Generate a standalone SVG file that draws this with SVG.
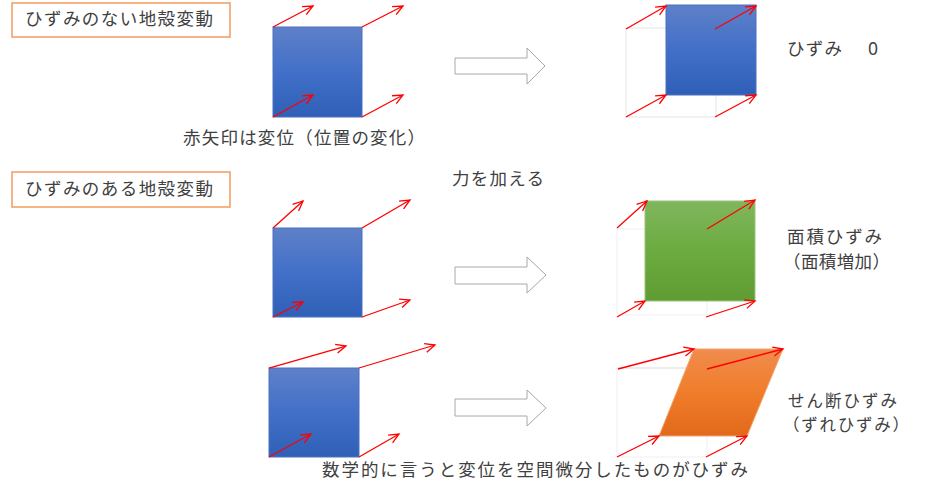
<svg xmlns="http://www.w3.org/2000/svg" width="929" height="487" viewBox="0 0 929 487">
<defs>
<linearGradient id="gBlue" x1="0" y1="0" x2="0" y2="1"><stop offset="0" stop-color="#5f80c8"/><stop offset="0.5" stop-color="#4270c8"/><stop offset="1" stop-color="#2f5fb6"/></linearGradient>
<linearGradient id="gGreen" x1="0" y1="0" x2="0" y2="1"><stop offset="0" stop-color="#80b65e"/><stop offset="0.5" stop-color="#6cab3f"/><stop offset="1" stop-color="#5f9c34"/></linearGradient>
<linearGradient id="gOrange" x1="0" y1="0" x2="0" y2="1"><stop offset="0" stop-color="#f08c4e"/><stop offset="0.5" stop-color="#f07d2a"/><stop offset="1" stop-color="#e2691b"/></linearGradient>
<marker id="ah" markerUnits="userSpaceOnUse" markerWidth="14" markerHeight="12" viewBox="-11 -6 13 12" refX="0" refY="0" orient="auto"><path d="M-10,-4.5 L0,0 L-10,4.5" fill="none" stroke="#ff0000" stroke-width="1.3"/></marker>
</defs>
<style>
.t{font-family:"Noto Sans CJK JP","Noto Sans",sans-serif;font-size:17.5px;fill:#404040}
.s{font-size:16.5px}
.lbl{fill:#fff;stroke:#f39a5c;stroke-width:1.5}
.blue{fill:url(#gBlue);stroke:#4a72c0;stroke-width:1}
.ghost{fill:none;stroke:#ebebeb;stroke-width:1.3}
.ghost2{fill:none;stroke:#f3f3f6;stroke-width:1.3}
.blk{fill:#fff;stroke:#a8a8a8;stroke-width:1}
.ra{fill:none;stroke:#ff0000;stroke-width:1.3;marker-end:url(#ah)}
</style>
<rect width="929" height="487" fill="#fff"/>
<g id="label1"><rect class="lbl" x="12" y="3" width="218" height="34"/><text class="t" x="25" y="25" textLength="188" lengthAdjust="spacing">ひずみのない地殻変動</text></g>
<g id="label2"><rect class="lbl" x="12" y="172" width="218" height="35"/><text class="t" x="25" y="194.5" textLength="188" lengthAdjust="spacing">ひずみのある地殻変動</text></g>
<g id="ghost1"><rect class="ghost" x="626" y="28" width="90" height="89"/></g>
<g id="ghost2"><rect class="ghost2" x="617" y="229" width="90" height="86"/></g>
<g id="ghost3"><rect class="ghost2" x="617" y="368" width="90" height="89"/><line x1="617" y1="368" x2="694" y2="368" stroke="#e8e8e8" stroke-width="1.5"/></g>
<g id="sq1"><rect class="blue" x="273" y="27" width="89" height="90"/></g>
<g id="sq1b"><rect class="blue" x="666" y="5" width="90" height="90"/></g>
<g id="sq2"><rect class="blue" x="273" y="228" width="89" height="89"/></g>
<g id="sq2b"><rect x="645" y="201" width="110" height="100" fill="url(#gGreen)" stroke="#9cc47f" stroke-width="1"/></g>
<g id="sq3"><rect class="blue" x="269" y="368" width="90" height="89"/></g>
<g id="sq3b"><polygon points="694,349 783,349 747,436 659,436" fill="url(#gOrange)" stroke="#f4a46c" stroke-width="1"/></g>
<g id="bigarrow1"><polygon class="blk" points="455,58 527,58 527,48 545,66 527,84 527,74 455,74"/></g>
<g id="bigarrow2"><polygon class="blk" points="455,267 527,267 527,257 546,275 527,293 527,284 455,284"/></g>
<g id="bigarrow3"><polygon class="blk" points="455,399 527,399 527,390 546,408 527,426 527,416 455,416"/></g>
<g id="connectors">
<line class="ra" x1="273" y1="27" x2="313" y2="6"/>
<line class="ra" x1="362" y1="27" x2="403" y2="6"/>
<line class="ra" x1="273" y1="117" x2="313" y2="95"/>
<line class="ra" x1="362" y1="117" x2="403" y2="95"/>
<line class="ra" x1="626" y1="29" x2="666" y2="6"/>
<line class="ra" x1="715" y1="29" x2="756" y2="6"/>
<line class="ra" x1="626" y1="117" x2="666" y2="95"/>
<line class="ra" x1="715" y1="117" x2="756" y2="95"/>
<line class="ra" x1="273" y1="228" x2="303" y2="201"/>
<line class="ra" x1="362" y1="228" x2="410" y2="200"/>
<line class="ra" x1="273" y1="317" x2="303" y2="302"/>
<line class="ra" x1="362" y1="317" x2="410" y2="300"/>
<line class="ra" x1="617" y1="228" x2="647" y2="201"/>
<line class="ra" x1="707" y1="229" x2="755" y2="200"/>
<line class="ra" x1="617" y1="317" x2="645" y2="301"/>
<line class="ra" x1="706" y1="317" x2="755" y2="301"/>
<line class="ra" x1="269" y1="368" x2="346" y2="346"/>
<line class="ra" x1="359" y1="368" x2="435" y2="345"/>
<line class="ra" x1="269" y1="457" x2="311" y2="434"/>
<line class="ra" x1="359" y1="457" x2="399" y2="434"/>
<line class="ra" x1="618" y1="369" x2="694" y2="349"/>
<line class="ra" x1="707" y1="369" x2="783" y2="349"/>
<line class="ra" x1="617" y1="457" x2="659" y2="436"/>
<line class="ra" x1="706" y1="457" x2="747" y2="436"/>
</g>
<g id="texts">
<text class="t" x="183" y="144" textLength="242" lengthAdjust="spacing">赤矢印は変位（位置の変化）</text>
<text class="t" x="787" y="55" textLength="55" lengthAdjust="spacing">ひずみ</text>
<text class="t" x="868" y="55" style="font-family:'Noto Sans',sans-serif">0</text>
<text class="t" x="452" y="185" textLength="92" lengthAdjust="spacing">力を加える</text>
<text class="t" x="787" y="243" textLength="95" lengthAdjust="spacing">面積ひずみ</text>
<text class="t" x="783" y="268" textLength="107" lengthAdjust="spacing">（面積増加）</text>
<text class="t s" x="788" y="407" textLength="109" lengthAdjust="spacing">せん断ひずみ</text>
<text class="t s" x="783" y="431" textLength="126" lengthAdjust="spacing">（ずれひずみ）</text>
<text class="t" x="322" y="476" textLength="426" lengthAdjust="spacing">数学的に言うと変位を空間微分したものがひずみ</text>
</g>
</svg>
